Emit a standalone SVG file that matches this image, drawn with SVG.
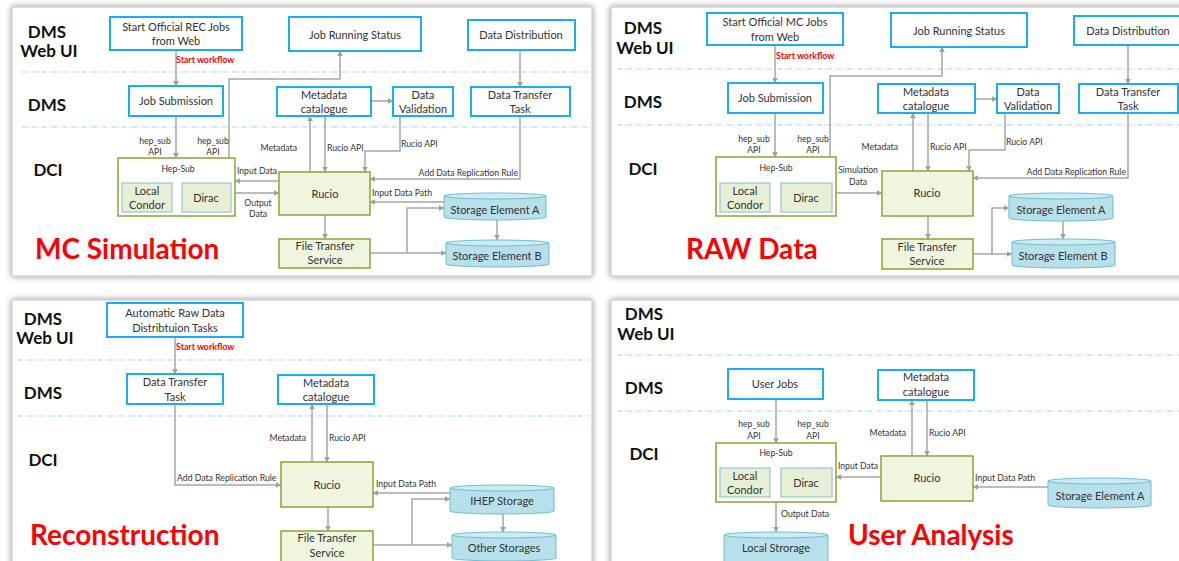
<svg xmlns="http://www.w3.org/2000/svg" width="1179" height="561" viewBox="0 0 1179 561">
<defs>
<filter id="sh" x="-5%" y="-5%" width="110%" height="110%"><feDropShadow dx="0" dy="0" stdDeviation="3" flood-color="#000" flood-opacity="0.45"/></filter>
<marker id="a" viewBox="0 0 10 10" refX="9" refY="5" markerWidth="4" markerHeight="4" orient="auto"><path d="M0,0 L10,5 L0,10 z" fill="#a0a0a0"/></marker>
</defs>
<style>
.pn{fill:#fff;stroke:#c4c4c4;stroke-width:1}
.b{fill:#fff;stroke:#18b0ea;stroke-width:2}
.g{fill:#fff;stroke:#8faa42;stroke-width:1.6}
.r{fill:#eff5df;stroke:#8faa42;stroke-width:1.6}
.s{fill:#e7f0d6;stroke:#95c6cd;stroke-width:1.2}
.cy{fill:#b8e0ea;stroke:#6dbfd2;stroke-width:1}
.ct{fill:#cdebf2;stroke:#6dbfd2;stroke-width:1}
.c{fill:none;stroke:#a6a6a6;stroke-width:1.5;marker-end:url(#a)}
.d{stroke:#9fd7e9;stroke-width:1.2;stroke-dasharray:5 2 1 2}
text{font-family:Lato,"Liberation Sans",sans-serif;fill:#333}
.t{font-size:11px;text-anchor:middle}
.m{font-size:8.6px;text-anchor:middle}
.ms{font-size:8.7px;text-anchor:start}
.me{font-size:8.7px;text-anchor:end}
.lb{font-size:17px;font-weight:bold;fill:#111;text-anchor:middle}
.ti{font-size:28px;font-weight:bold;fill:#f00}
.sw{font-size:8.8px;font-weight:bold;fill:#f00}
</style>
<rect width="1179" height="561" fill="#fff"/>
<g id="panels">
<rect class="pn" x="12" y="7" width="580" height="269" filter="url(#sh)"/>
<rect class="pn" x="611" y="7" width="580" height="269" filter="url(#sh)"/>
<rect class="pn" x="12" y="300" width="580" height="275" filter="url(#sh)"/>
<rect class="pn" x="611" y="300" width="580" height="275" filter="url(#sh)"/>
</g>
<g id="lanes">
<line class="d" x1="22" y1="72" x2="590" y2="72"/><line class="d" x1="22" y1="127" x2="590" y2="127"/>
<line class="d" x1="617" y1="69" x2="1179" y2="69"/><line class="d" x1="617" y1="125" x2="1179" y2="125"/>
<line class="d" x1="18" y1="360" x2="590" y2="360"/><line class="d" x1="18" y1="416" x2="590" y2="416"/>
<line class="d" x1="617" y1="355" x2="1179" y2="355"/><line class="d" x1="617" y1="411" x2="1179" y2="411"/>
<text class="lb" x="47" y="38">DMS</text><text class="lb" x="49" y="57">Web UI</text>
<text class="lb" x="47" y="111">DMS</text><text class="lb" x="48" y="176">DCI</text>
<text class="lb" x="643" y="34">DMS</text><text class="lb" x="645" y="54">Web UI</text>
<text class="lb" x="643" y="108">DMS</text><text class="lb" x="643" y="175">DCI</text>
<text class="lb" x="43" y="325">DMS</text><text class="lb" x="45" y="344">Web UI</text>
<text class="lb" x="43" y="399">DMS</text><text class="lb" x="43" y="466">DCI</text>
<text class="lb" x="644" y="320">DMS</text><text class="lb" x="646" y="340">Web UI</text>
<text class="lb" x="644" y="394">DMS</text><text class="lb" x="644" y="460">DCI</text>
<text class="ti" x="35" y="259">MC Simulation</text>
<text class="ti" x="686" y="259">RAW Data</text>
<text class="ti" x="30" y="545">Reconstruction</text>
<text class="ti" x="848" y="545">User Analysis</text>
</g>
<g id="connectors">
<!-- panel 1 -->
<path class="c" d="M176,50V86"/>
<path class="c" d="M176,116V158"/>
<path class="c" d="M229,158V79H340V51"/>
<path class="c" d="M280,181H235"/>
<path class="c" d="M235,193H279"/>
<path class="c" d="M310,172V116"/>
<path class="c" d="M325,116V172"/>
<path class="c" d="M400,116V151H365V172"/>
<path class="c" d="M520,116V179H370"/>
<path class="c" d="M444,202H370"/>
<path class="c" d="M325,215V239"/>
<path class="c" d="M370,253H407V208H444"/>
<path class="c" d="M407,253H446"/>
<path class="c" d="M497,220V240"/>
<path class="c" d="M371,101H393"/>
<path class="c" d="M520,50V87"/>
<text class="sw" x="176" y="63">Start workflow</text>
<text class="m" x="155" y="144">hep_sub</text><text class="m" x="155" y="155">API</text>
<text class="m" x="213" y="144">hep_sub</text><text class="m" x="213" y="155">API</text>
<text class="m" x="257" y="174">Input Data</text>
<text class="m" x="258" y="206">Output</text><text class="m" x="258" y="217">Data</text>
<text class="me" x="297" y="151">Metadata</text>
<text class="ms" x="327" y="151">Rucio API</text>
<text class="ms" x="401" y="147">Rucio API</text>
<text class="me" x="518" y="176">Add Data Replication Rule</text>
<text class="ms" x="372" y="196">Input Data Path</text>
<!-- panel 2 -->
<path class="c" d="M775,45V83"/>
<path class="c" d="M775,113V157"/>
<path class="c" d="M830,157V76H942V47"/>
<path class="c" d="M836,193H882"/>
<path class="c" d="M913,171V113"/>
<path class="c" d="M928,113V171"/>
<path class="c" d="M1005,113V150H969V171"/>
<path class="c" d="M1128,113V178H973"/>
<path class="c" d="M928,216V239"/>
<path class="c" d="M973,254H992V208H1009"/>
<path class="c" d="M992,254H1012"/>
<path class="c" d="M1063,221V239"/>
<path class="c" d="M975,99H997"/>
<path class="c" d="M1128,45V84"/>
<text class="sw" x="776" y="59">Start workflow</text>
<text class="m" x="754" y="142">hep_sub</text><text class="m" x="754" y="153">API</text>
<text class="m" x="813" y="142">hep_sub</text><text class="m" x="813" y="153">API</text>
<text class="m" x="858" y="173">Simulation</text><text class="m" x="858" y="185">Data</text>
<text class="me" x="898" y="150">Metadata</text>
<text class="ms" x="930" y="150">Rucio API</text>
<text class="ms" x="1006" y="145">Rucio API</text>
<text class="me" x="1126" y="175">Add Data Replication Rule</text>
<!-- panel 3 -->
<path class="c" d="M175,337V374"/>
<path class="c" d="M175,404V485H281"/>
<path class="c" d="M312,462V404"/>
<path class="c" d="M327,404V462"/>
<path class="c" d="M450,493H373"/>
<path class="c" d="M328,507V531"/>
<path class="c" d="M373,545H412V499H450"/>
<path class="c" d="M412,545H452"/>
<path class="c" d="M503,514V532"/>
<text class="sw" x="176" y="350">Start workflow</text>
<text class="ms" x="177" y="481">Add Data Replication Rule</text>
<text class="me" x="306" y="441">Metadata</text>
<text class="ms" x="329" y="441">Rucio API</text>
<text class="ms" x="376" y="487">Input Data Path</text>
<!-- panel 4 -->
<path class="c" d="M776,399V443"/>
<path class="c" d="M881,477H836"/>
<path class="c" d="M776,502V532"/>
<path class="c" d="M912,456V400"/>
<path class="c" d="M927,400V456"/>
<path class="c" d="M1048,487H973"/>
<text class="m" x="754" y="427">hep_sub</text><text class="m" x="754" y="439">API</text>
<text class="m" x="813" y="427">hep_sub</text><text class="m" x="813" y="439">API</text>
<text class="m" x="858" y="469">Input Data</text>
<text class="ms" x="781" y="517">Output Data</text>
<text class="me" x="906" y="436">Metadata</text>
<text class="ms" x="929" y="436">Rucio API</text>
<text class="ms" x="975" y="481">Input Data Path</text>
</g>
<!-- panel 1 nodes -->
<g id="p1-start"><rect class="b" x="110" y="17" width="132" height="33"/><text class="t" x="176" y="31">Start Official REC Jobs</text><text class="t" x="176" y="45">from Web</text></g>
<g id="p1-jobsub"><rect class="b" x="129" y="86" width="94" height="30"/><text class="t" x="176" y="105">Job Submission</text></g>
<g id="p1-jrs"><rect class="b" x="289" y="17" width="132" height="34"/><text class="t" x="355" y="39">Job Running Status</text></g>
<g id="p1-dd"><rect class="b" x="468" y="20" width="107" height="30"/><text class="t" x="521" y="39">Data Distribution</text></g>
<g id="p1-meta"><rect class="b" x="277" y="87" width="94" height="29"/><text class="t" x="324" y="99">Metadata</text><text class="t" x="324" y="113">catalogue</text></g>
<g id="p1-dv"><rect class="b" x="393" y="87" width="60" height="29"/><text class="t" x="423" y="99">Data</text><text class="t" x="423" y="113">Validation</text></g>
<g id="p1-dtt"><rect class="b" x="471" y="87" width="99" height="29"/><text class="t" x="520" y="99">Data Transfer</text><text class="t" x="520" y="113">Task</text></g>
<g id="p1-hepsub"><rect class="g" x="118" y="158" width="117" height="58"/><text class="m" x="178" y="172">Hep-Sub</text>
<rect class="s" x="122" y="183" width="50" height="29"/><text class="t" x="147" y="195">Local</text><text class="t" x="147" y="209">Condor</text>
<rect class="s" x="182" y="183" width="49" height="29"/><text class="t" x="206" y="202">Dirac</text></g>
<g id="p1-rucio"><rect class="r" x="279" y="172" width="91" height="43"/><text class="t" x="325" y="198">Rucio</text></g>
<g id="p1-fts"><rect class="r" x="279" y="239" width="91" height="29"/><text class="t" x="325" y="250">File Transfer</text><text class="t" x="325" y="264">Service</text></g>
<g id="p1-sea"><path class="cy" d="M444,196V217A51,3 0 0 0 546,217V196"/><ellipse class="ct" cx="495" cy="196" rx="51" ry="3"/><text class="t" x="495" y="214">Storage Element A</text></g>
<g id="p1-seb"><path class="cy" d="M446,243V264A51.5,3 0 0 0 549,264V243"/><ellipse class="ct" cx="497.5" cy="243" rx="51.5" ry="3"/><text class="t" x="497" y="260">Storage Element B</text></g>
<!-- panel 2 nodes -->
<g id="p2-start"><rect class="b" x="707" y="13" width="136" height="32"/><text class="t" x="775" y="26">Start Official MC Jobs</text><text class="t" x="775" y="41">from Web</text></g>
<g id="p2-jobsub"><rect class="b" x="728" y="83" width="95" height="30"/><text class="t" x="775" y="102">Job Submission</text></g>
<g id="p2-jrs"><rect class="b" x="891" y="13" width="136" height="34"/><text class="t" x="959" y="35">Job Running Status</text></g>
<g id="p2-dd"><rect class="b" x="1074" y="16" width="107" height="29"/><text class="t" x="1128" y="35">Data Distribution</text></g>
<g id="p2-meta"><rect class="b" x="878" y="84" width="97" height="29"/><text class="t" x="926" y="96">Metadata</text><text class="t" x="926" y="110">catalogue</text></g>
<g id="p2-dv"><rect class="b" x="997" y="84" width="62" height="29"/><text class="t" x="1028" y="96">Data</text><text class="t" x="1028" y="110">Validation</text></g>
<g id="p2-dtt"><rect class="b" x="1079" y="84" width="99" height="29"/><text class="t" x="1128" y="96">Data Transfer</text><text class="t" x="1128" y="110">Task</text></g>
<g id="p2-hepsub"><rect class="g" x="716" y="157" width="120" height="59"/><text class="m" x="776" y="171">Hep-Sub</text>
<rect class="s" x="720" y="183" width="50" height="29"/><text class="t" x="745" y="195">Local</text><text class="t" x="745" y="209">Condor</text>
<rect class="s" x="781" y="183" width="51" height="29"/><text class="t" x="806" y="202">Dirac</text></g>
<g id="p2-rucio"><rect class="r" x="882" y="171" width="91" height="45"/><text class="t" x="927" y="197">Rucio</text></g>
<g id="p2-fts"><rect class="r" x="882" y="239" width="91" height="30"/><text class="t" x="927" y="251">File Transfer</text><text class="t" x="927" y="265">Service</text></g>
<g id="p2-sea"><path class="cy" d="M1009,196V218A52,3 0 0 0 1113,218V196"/><ellipse class="ct" cx="1061" cy="196" rx="52" ry="3"/><text class="t" x="1061" y="214">Storage Element A</text></g>
<g id="p2-seb"><path class="cy" d="M1012,242V265A51.5,3 0 0 0 1115,265V242"/><ellipse class="ct" cx="1063.5" cy="242" rx="51.5" ry="3"/><text class="t" x="1063" y="260">Storage Element B</text></g>
<!-- panel 3 nodes -->
<g id="p3-start"><rect class="b" x="107" y="303" width="136" height="34"/><text class="t" x="175" y="317">Automatic Raw Data</text><text class="t" x="175" y="332">Distribtuion Tasks</text></g>
<g id="p3-dtt"><rect class="b" x="127" y="374" width="96" height="30"/><text class="t" x="175" y="386">Data Transfer</text><text class="t" x="175" y="401">Task</text></g>
<g id="p3-meta"><rect class="b" x="278" y="375" width="96" height="29"/><text class="t" x="326" y="387">Metadata</text><text class="t" x="326" y="401">catalogue</text></g>
<g id="p3-rucio"><rect class="r" x="281" y="462" width="92" height="45"/><text class="t" x="327" y="489">Rucio</text></g>
<g id="p3-fts"><rect class="r" x="281" y="531" width="92" height="32"/><text class="t" x="327" y="542">File Transfer</text><text class="t" x="327" y="557">Service</text></g>
<g id="p3-ihep"><path class="cy" d="M450,488V511A52,3 0 0 0 554,511V488"/><ellipse class="ct" cx="502" cy="488" rx="52" ry="3"/><text class="t" x="502" y="505">IHEP Storage</text></g>
<g id="p3-other"><path class="cy" d="M452,535V558A52,3 0 0 0 556,558V535"/><ellipse class="ct" cx="504" cy="535" rx="52" ry="3"/><text class="t" x="504" y="552">Other Storages</text></g>
<!-- panel 4 nodes -->
<g id="p4-userjobs"><rect class="b" x="728" y="369" width="95" height="30"/><text class="t" x="775" y="388">User Jobs</text></g>
<g id="p4-meta"><rect class="b" x="878" y="370" width="96" height="30"/><text class="t" x="926" y="381">Metadata</text><text class="t" x="926" y="396">catalogue</text></g>
<g id="p4-hepsub"><rect class="g" x="716" y="443" width="120" height="59"/><text class="m" x="776" y="456">Hep-Sub</text>
<rect class="s" x="720" y="468" width="50" height="29"/><text class="t" x="745" y="480">Local</text><text class="t" x="745" y="494">Condor</text>
<rect class="s" x="781" y="468" width="51" height="29"/><text class="t" x="806" y="487">Dirac</text></g>
<g id="p4-rucio"><rect class="r" x="881" y="456" width="92" height="45"/><text class="t" x="927" y="482">Rucio</text></g>
<g id="p4-sea"><path class="cy" d="M1048,481V505A51.5,3 0 0 0 1151,505V481"/><ellipse class="ct" cx="1099.5" cy="481" rx="51.5" ry="3"/><text class="t" x="1100" y="500">Storage Element A</text></g>
<g id="p4-local"><path class="cy" d="M724,535V562A52,3 0 0 0 828,562V535"/><ellipse class="ct" cx="776" cy="535" rx="52" ry="3"/><text class="t" x="776" y="552">Local Strorage</text></g>
</svg>
